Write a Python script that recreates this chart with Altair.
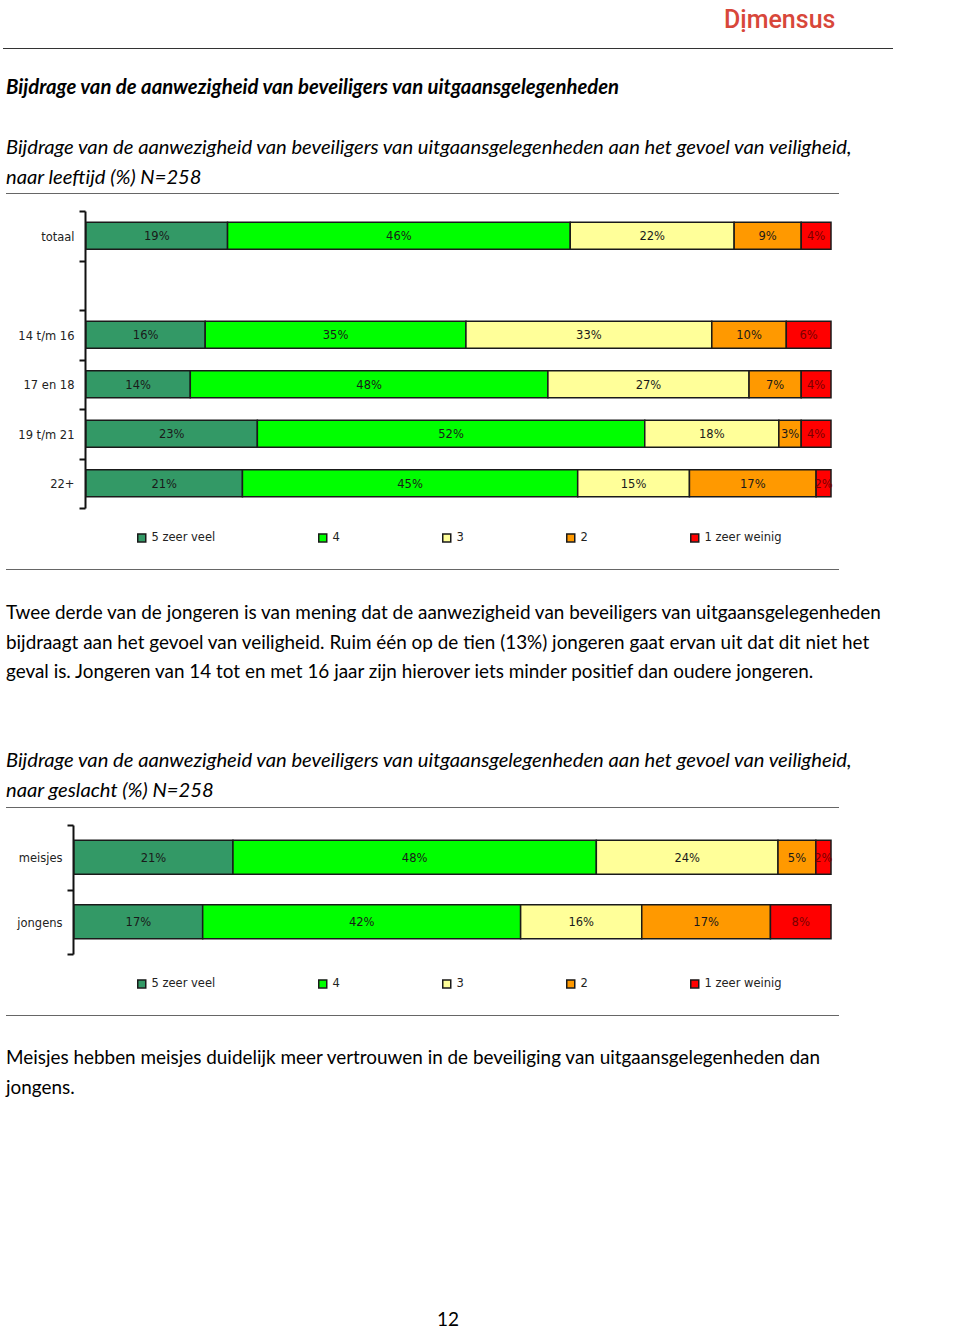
import altair as alt
import pandas as pd

# ---------------- data ----------------
categories = ["5 zeer veel", "4", "3", "2", "1 zeer weinig"]
bar_colors = ["#339966", "#00ff00", "#ffff99", "#ff9900", "#ff0000"]
text_colors = ["#1a1a1a", "#1a1a1a", "#1a1a1a", "#1a1a1a", "#7a0000"]

age_groups = ["totaal", "14 t/m 16", "17 en 18", "19 t/m 21", "22+"]
age_axis = ["totaal", " ", "14 t/m 16", "17 en 18", "19 t/m 21", "22+"]
age_values = {
    "5 zeer veel": [19, 16, 14, 23, 21],
    "4": [46, 35, 48, 52, 45],
    "3": [22, 33, 27, 18, 15],
    "2": [9, 10, 7, 3, 17],
    "1 zeer weinig": [4, 6, 4, 4, 2],
}

sex_groups = ["meisjes", "jongens"]
sex_values = {
    "5 zeer veel": [21, 17],
    "4": [48, 42],
    "3": [24, 16],
    "2": [5, 17],
    "1 zeer weinig": [2, 8],
}

logo_text = "Dịmensus"
heading = "Bijdrage van de aanwezigheid van beveiligers van uitgaansgelegenheden"
title_age = [
    "Bijdrage van de aanwezigheid van beveiligers van uitgaansgelegenheden aan het gevoel van veiligheid,",
    "naar leeftijd (%) N=258",
]
para_age = [
    "Twee derde van de jongeren is van mening dat de aanwezigheid van beveiligers van uitgaansgelegenheden",
    "bijdraagt aan het gevoel van veiligheid. Ruim één op de tien (13%) jongeren gaat ervan uit dat dit niet het",
    "geval is. Jongeren van 14 tot en met 16 jaar zijn hierover iets minder positief dan oudere jongeren.",
]
title_sex = [
    "Bijdrage van de aanwezigheid van beveiligers van uitgaansgelegenheden aan het gevoel van veiligheid,",
    "naar geslacht (%) N=258",
]
para_sex = [
    "Meisjes hebben meisjes duidelijk meer vertrouwen in de beveiliging van uitgaansgelegenheden dan",
    "jongens.",
]
page_number = "12"


def long_table(groups, values):
    rows = []
    for ci, cat in enumerate(categories):
        for gi, g in enumerate(groups):
            rows.append({"group": g, "cat": cat, "order": ci, "value": values[cat][gi]})
    return pd.DataFrame(rows)


age_df = long_table(age_groups, age_values)
sex_df = long_table(sex_groups, sex_values)

LABEL_FONT = "DejaVu Sans"
TEXT_FONT = "Lato"


def bar_block(df, y_domain, x_range, y_range, bar_size, axis_offset, legend_xy):
    base = alt.Chart(df).transform_stack(
        stack="value", groupby=["group"], sort=[alt.SortField("order")], as_=["v0", "v1"]
    ).transform_calculate(mid="(datum.v0 + datum.v1) / 2", label="datum.value + '%'")
    xs = alt.Scale(domain=[0, 100], range=x_range, nice=False, zero=False)
    ys = alt.Scale(domain=y_domain, range=y_range, paddingInner=0, paddingOuter=0)
    bars = base.mark_bar(size=bar_size, stroke="#1a1a1a", strokeWidth=1.5).encode(
        x=alt.X("v0:Q", scale=xs, axis=None),
        x2="v1:Q",
        y=alt.Y(
            "group:N",
            scale=ys,
            axis=alt.Axis(
                title=None, orient="left", offset=axis_offset, tickBand="extent",
                domainColor="#111111", domainWidth=2, tickColor="#111111", tickWidth=2,
                tickSize=6, labelFont=LABEL_FONT, labelFontSize=11.5, labelColor="#222222",
                labelPadding=5, labelOffset=1.5, grid=False,
            ),
        ),
        color=alt.Color(
            "cat:N",
            scale=alt.Scale(domain=categories, range=bar_colors),
            legend=alt.Legend(
                title=None, orient="none", legendX=legend_xy[0], legendY=legend_xy[1],
                direction="horizontal", columns=5, columnPadding=99, symbolType="square",
                symbolSize=64, symbolStrokeColor="#1a1a1a", symbolStrokeWidth=1.5,
                labelFont=LABEL_FONT, labelFontSize=11.5, labelColor="#222222", labelOffset=4,
                padding=0,
            ),
        ),
    )
    texts = base.mark_text(font=LABEL_FONT, fontSize=11.5, baseline="middle", dy=1.5).encode(
        x=alt.X("mid:Q", scale=xs, axis=None),
        y=alt.Y("group:N", scale=ys, axis=None),
        text="label:N",
        color=alt.Color("cat:N", scale=alt.Scale(domain=categories, range=text_colors), legend=None),
    )
    return [bars, texts]


one = alt.Data(values=[{}])


def text_line(txt, x, y, size, color="#000000", weight="normal", style="normal", font=TEXT_FONT, align="left"):
    return alt.Chart(one).mark_text(
        text=txt, align=align, baseline="middle", font=font, fontSize=size,
        fontWeight=weight, fontStyle=style, color=color,
    ).encode(x=alt.value(x), y=alt.value(y))


def hline(x1, x2, y, color, width=1):
    return alt.Chart(one).mark_rule(color=color, strokeWidth=width).encode(
        x=alt.value(x1), x2=alt.value(x2), y=alt.value(y)
    )


layers = []
layers += bar_block(age_df, age_axis, [86, 831], [211, 508], 27, -85, (136, 532))
layers += bar_block(sex_df, sex_groups, [74, 831], [825, 954], 34, -73, (136, 978))

layers.append(text_line(logo_text, 724, 20, 25, color="#d8473a", weight=500, font="Roboto"))
layers.append(hline(3, 893, 48.5, "#333333", 1.2))
layers.append(text_line(heading, 6, 88, 20.3, weight="bold", style="italic"))
for i, t in enumerate(title_age):
    layers.append(text_line(t, 6, 148 + 29.5 * i, 20.2, style="italic"))
layers.append(hline(6, 839, 193.5, "#666666", 1.2))
layers.append(hline(6, 839, 569.5, "#666666", 1.2))
for i, t in enumerate(para_age):
    layers.append(text_line(t, 6, 613 + 29.5 * i, 18.9))
for i, t in enumerate(title_sex):
    layers.append(text_line(t, 6, 761 + 29.5 * i, 20.2, style="italic"))
layers.append(hline(6, 839, 807.5, "#666666", 1.2))
layers.append(hline(6, 839, 1015.5, "#666666", 1.2))
for i, t in enumerate(para_sex):
    layers.append(text_line(t, 6, 1058 + 29.5 * i, 18.9))
layers.append(text_line(page_number, 448, 1320, 19, align="center"))

chart = alt.layer(*layers).resolve_scale(
    x="independent", y="independent", color="independent"
).properties(
    width=960, height=1331, padding=0, autosize="none", background="white"
).configure_view(stroke=None)

chart.save("out.html", embed_options={"renderer": "svg", "actions": False})
